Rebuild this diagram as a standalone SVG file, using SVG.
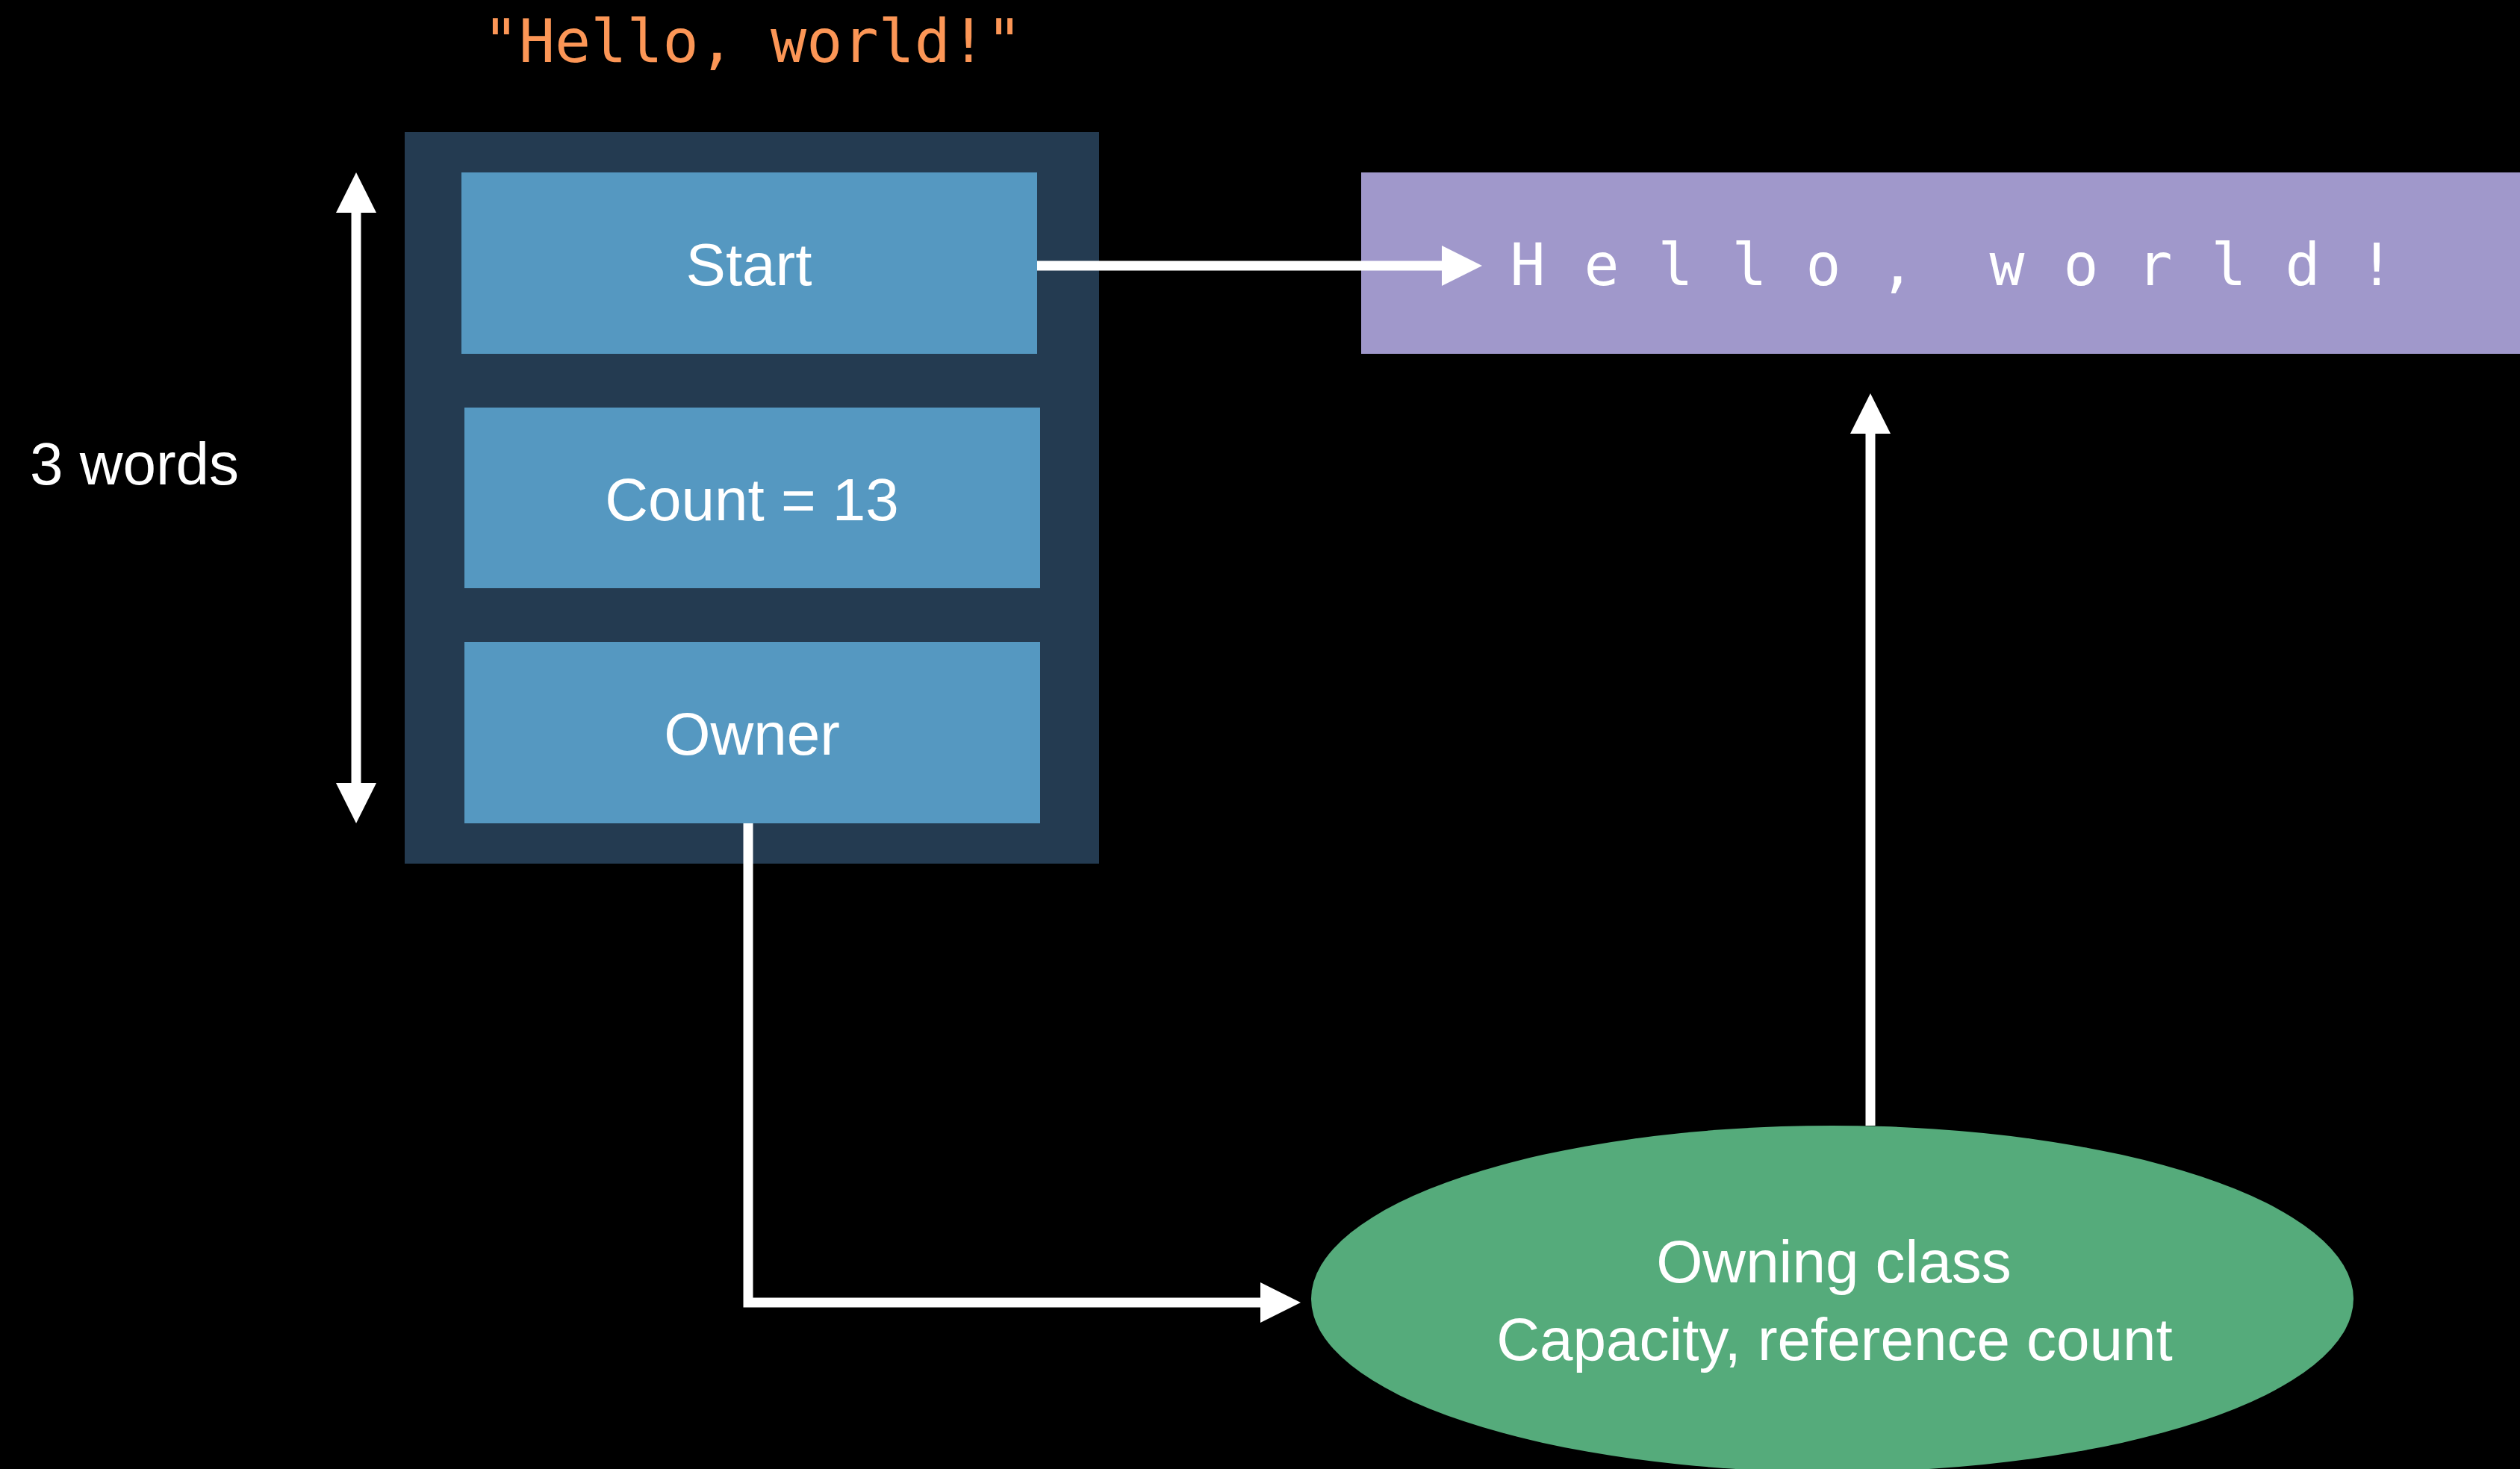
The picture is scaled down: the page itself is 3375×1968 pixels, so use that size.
<svg xmlns="http://www.w3.org/2000/svg" width="3375" height="1968" viewBox="0 0 3375 1968">
<defs>
<style>
.sans{font-family:"Liberation Sans",Arial,sans-serif;font-size:80px;fill:#ffffff;text-anchor:middle}
.mono{font-family:"DejaVu Sans Mono","Liberation Mono",monospace;text-anchor:middle}
.cell{fill:#5598C1}
.conn{fill:none;stroke:#ffffff;stroke-width:13}
</style>
<marker id="head" markerUnits="userSpaceOnUse" markerWidth="54" markerHeight="54" refX="0" refY="27" orient="auto-start-reverse" viewBox="0 0 54 54">
<path d="M0,0 L54,27 L0,54 Z" fill="#ffffff"/>
</marker>
</defs>
<rect x="0" y="0" width="3375" height="1968" fill="#000000"/>

<g id="title">
<text class="mono" x="1008" y="83" font-size="80" fill="#FC9656">"Hello, world!"</text>
</g>

<g id="words-label">
<text class="sans" x="180" y="649" text-anchor="middle">3 words</text>
</g>

<g id="string-struct">
<rect x="542" y="177" width="930" height="980" fill="#243B51"/>
</g>

<g id="start">
<rect class="cell" x="618" y="231" width="771" height="243"/>
<text class="sans" x="1003" y="382">Start</text>
</g>

<g id="count">
<rect class="cell" x="622" y="546" width="771" height="242"/>
<text class="sans" x="1007" y="697">Count = 13</text>
</g>

<g id="owner">
<rect class="cell" x="622" y="860" width="771" height="243"/>
<text class="sans" x="1007" y="1011">Owner</text>
</g>

<g id="buffer">
<rect x="1823" y="231" width="1552" height="243" fill="#A098CB"/>
<text class="mono" font-size="78" fill="#ffffff" y="382" x="2046 2145 2244 2343 2442 2541 2614 2688 2787 2886 2985 3084 3183">Hello, world!</text>
</g>

<g id="owning-class">
<ellipse cx="2454" cy="1740" rx="698" ry="232" fill="#55AB7B"/>
<text class="sans" x="2456" y="1718">Owning class</text>
<text class="sans" x="2457" y="1822">Capacity, reference count</text>
</g>

<g id="connectors">
<line class="conn" x1="477" y1="285" x2="477" y2="1049" marker-start="url(#head)" marker-end="url(#head)"/>
<line class="conn" x1="1389" y1="356" x2="1931" y2="356" marker-end="url(#head)"/>
<path class="conn" d="M1002,1103 V1745 H1688" stroke-linejoin="miter" marker-end="url(#head)"/>
<line class="conn" x1="2505" y1="1508" x2="2505" y2="581" marker-end="url(#head)"/>
</g>
</svg>
